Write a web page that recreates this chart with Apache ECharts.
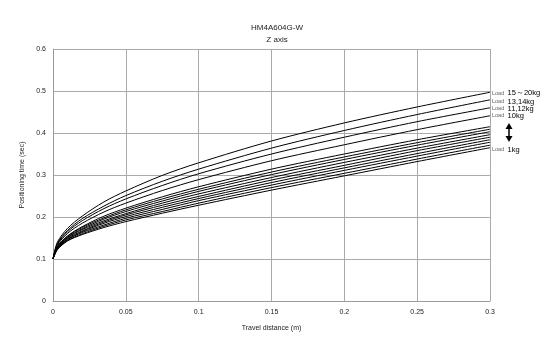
<!DOCTYPE html>
<html>
<head>
<meta charset="utf-8">
<script src="https://cdn.jsdelivr.net/npm/echarts@6/dist/echarts.min.js"></script>
<style>
  html, body { margin: 0; padding: 0; background: #fff; }
  #chart { width: 550px; height: 352px; }
</style>
</head>
<body>
<div id="chart"></div>
<script>
// travel distance (m)
const distances = [0, 0.003, 0.01, 0.02, 0.035, 0.05, 0.075, 0.1, 0.15, 0.2, 0.25, 0.3];

// positioning time (sec), heaviest load first
const load15to20 = [0.1, 0.140, 0.173, 0.202, 0.236, 0.262, 0.299, 0.329, 0.381, 0.424, 0.462, 0.497];
const load13to14 = [0.1, 0.137, 0.168, 0.196, 0.226, 0.251, 0.285, 0.314, 0.364, 0.406, 0.444, 0.479];
const load11to12 = [0.1, 0.135, 0.165, 0.191, 0.220, 0.243, 0.275, 0.303, 0.350, 0.390, 0.427, 0.460];
const load10 = [0.1, 0.133, 0.161, 0.185, 0.212, 0.233, 0.263, 0.289, 0.334, 0.372, 0.408, 0.441];
const load9 = [0.1, 0.130, 0.155, 0.177, 0.202, 0.221, 0.248, 0.272, 0.314, 0.350, 0.384, 0.415];
const load8 = [0.1, 0.129, 0.154, 0.175, 0.198, 0.217, 0.243, 0.266, 0.307, 0.343, 0.377, 0.409];
const load7 = [0.1, 0.128, 0.152, 0.172, 0.195, 0.213, 0.238, 0.261, 0.301, 0.337, 0.371, 0.403];
const load6 = [0.1, 0.127, 0.151, 0.170, 0.191, 0.208, 0.233, 0.255, 0.294, 0.330, 0.364, 0.396];
const load5 = [0.1, 0.126, 0.149, 0.167, 0.188, 0.205, 0.228, 0.249, 0.288, 0.323, 0.358, 0.390];
const load4 = [0.1, 0.125, 0.147, 0.165, 0.185, 0.201, 0.223, 0.244, 0.282, 0.317, 0.351, 0.384];
const load3 = [0.1, 0.124, 0.146, 0.163, 0.181, 0.197, 0.218, 0.239, 0.276, 0.311, 0.345, 0.378];
const load2 = [0.1, 0.123, 0.144, 0.160, 0.178, 0.193, 0.213, 0.233, 0.270, 0.304, 0.338, 0.371];
const load1 = [0.1, 0.122, 0.143, 0.158, 0.175, 0.189, 0.209, 0.228, 0.264, 0.298, 0.332, 0.365];

const curves = [
  { name: '15～20kg', data: load15to20, dy: 1 },
  { name: '13,14kg', data: load13to14, dy: 2 },
  { name: '11,12kg', data: load11to12, dy: 1 },
  { name: '10kg', data: load10, dy: 0 },
  { name: '9kg', data: load9 },
  { name: '8kg', data: load8 },
  { name: '7kg', data: load7 },
  { name: '6kg', data: load6 },
  { name: '5kg', data: load5 },
  { name: '4kg', data: load4 },
  { name: '3kg', data: load3 },
  { name: '2kg', data: load2 },
  { name: '1kg', data: load1, dy: 2 },
];

const FONT = '"Liberation Sans", Arial, sans-serif';

const chart = echarts.init(document.getElementById('chart'));

chart.setOption({
  animation: false,
  title: {
    text: 'HM4A604G-W\nZ axis',
    left: 272,
    textAlign: 'center',
    top: 17,
    textStyle: {
      fontFamily: FONT,
      fontSize: 8,
      fontWeight: 'normal',
      color: '#222',
      lineHeight: 12,
    },
  },
  grid: { left: 53, right: 60, top: 49, bottom: 51 },
  xAxis: {
    type: 'value',
    min: 0,
    max: 0.3,
    interval: 0.05,
    name: 'Travel distance (m)',
    nameLocation: 'middle',
    nameGap: 24,
    nameTextStyle: { fontFamily: FONT, fontSize: 7, color: '#222' },
    axisLine: { lineStyle: { color: '#999' } },
    axisTick: { show: false },
    axisLabel: { fontFamily: FONT, fontSize: 7, color: '#222', margin: 8 },
    splitLine: { lineStyle: { color: '#aaa', width: 1 } },
  },
  yAxis: {
    type: 'value',
    min: 0,
    max: 0.6,
    interval: 0.1,
    name: 'Positioning time (sec)',
    nameLocation: 'middle',
    nameGap: 19,
    nameTextStyle: { fontFamily: FONT, fontSize: 7, color: '#222' },
    axisLine: { show: true, lineStyle: { color: '#999' } },
    axisTick: { show: false },
    axisLabel: { fontFamily: FONT, fontSize: 7, color: '#222', margin: 7 },
    splitLine: { lineStyle: { color: '#aaa', width: 1 } },
  },
  series: curves.map((c) => ({
    name: c.name,
    type: 'line',
    data: distances.map((d, i) => [d, c.data[i]]),
    smooth: 0.3,
    showSymbol: false,
    lineStyle: { color: '#000', width: 1 },
    endLabel: {
      show: c.dy !== undefined,
      distance: 2,
      offset: [0, c.dy || 0],
      formatter: '{a|Load} {b|' + c.name + '}',
      rich: {
        a: { fontFamily: FONT, fontSize: 5.5, color: '#666' },
        b: { fontFamily: FONT, fontSize: 7.5, color: '#000' },
      },
    },
  })),
  graphic: [
    { type: 'line', shape: { x1: 509, y1: 127, x2: 509, y2: 138 }, style: { stroke: '#000', lineWidth: 1.5 } },
    { type: 'polygon', shape: { points: [[505.5, 129], [512.5, 129], [509, 123]] }, style: { fill: '#000' } },
    { type: 'polygon', shape: { points: [[505.5, 136], [512.5, 136], [509, 142]] }, style: { fill: '#000' } },
  ],
});
</script>
</body>
</html>
